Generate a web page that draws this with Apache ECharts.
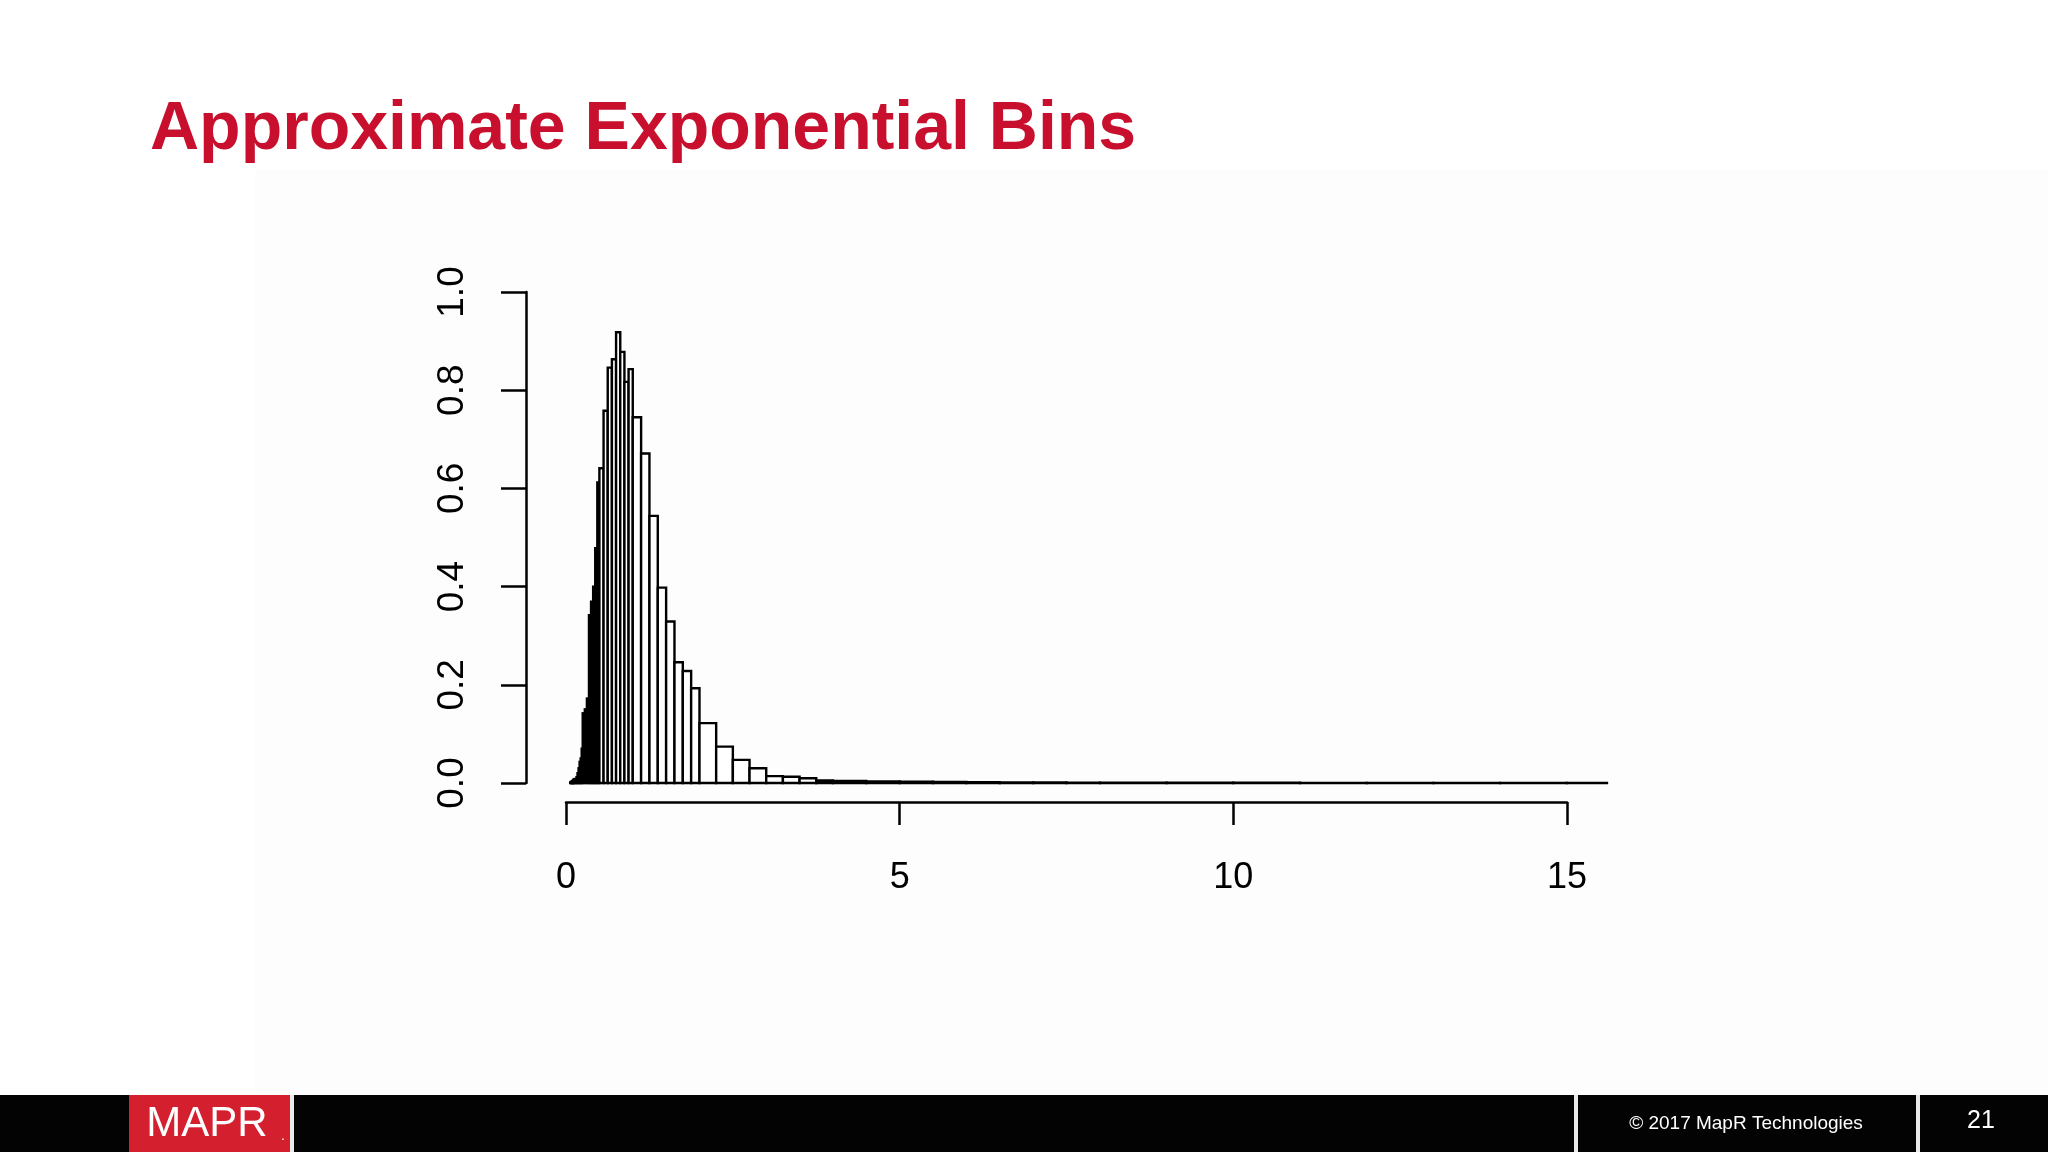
<!DOCTYPE html>
<html>
<head>
<meta charset="utf-8">
<script src="https://cdn.jsdelivr.net/npm/echarts@6/dist/echarts.min.js"></script>
<style>
html,body{margin:0;padding:0;background:#ffffff;}
#chart{width:2048px;height:1152px;}
</style>
</head>
<body>
<div id="chart"></div>
<script>
// Bin left edges (approximately exponential: 8 equal bins per octave)
const binLefts = [
  0.0625, 0.0703, 0.0781, 0.0859, 0.0938, 0.1016, 0.1094, 0.1172,
  0.125, 0.1406, 0.1563, 0.1719, 0.1875, 0.2031, 0.2188, 0.2344,
  0.25, 0.2813, 0.3125, 0.3438, 0.375, 0.4063, 0.4375, 0.4688,
  0.5, 0.5625, 0.625, 0.6875, 0.75, 0.8125, 0.875, 0.9375,
  1, 1.125, 1.25, 1.375, 1.5, 1.625, 1.75, 1.875,
  2, 2.25, 2.5, 2.75, 3, 3.25, 3.5, 3.75,
  4, 4.5, 5, 5.5, 6, 6.5, 7, 7.5,
  8, 9, 10, 11, 12, 13, 14, 15
];
const lastEdge = 15.6;
// Density of each bin
const densities = [
  0.001, 0.002, 0.002, 0.003, 0.004, 0.005, 0.006, 0.008,
  0.006, 0.008, 0.012, 0.02, 0.03, 0.043, 0.05, 0.07,
  0.142, 0.15, 0.172, 0.342, 0.369, 0.40, 0.478, 0.612,
  0.641, 0.758, 0.846, 0.863, 0.918, 0.878, 0.817, 0.843,
  0.745, 0.671, 0.544, 0.398, 0.329, 0.246, 0.228, 0.193,
  0.122, 0.074, 0.047, 0.030, 0.014, 0.0127, 0.0097, 0.005,
  0.004, 0.003, 0.0025, 0.002, 0.0015, 0.0012, 0.001, 0.0008,
  0.0006, 0.0005, 0.0004, 0.0003, 0.0003, 0.0002, 0.0002, 0.0001
];
const xTicks = [0, 5, 10, 15];
const yTicks = [0.0, 0.2, 0.4, 0.6, 0.8, 1.0];

const titleText = 'Approximate Exponential Bins';
const footerText = '\u00A9 2017 MapR Technologies';
const pageNumber = '21';

const histData = binLefts.map((l, i) => [l, i < binLefts.length - 1 ? binLefts[i + 1] : lastEdge, densities[i]]);

const chart = echarts.init(document.getElementById('chart'), null, {renderer: 'canvas'});
const font = 'Liberation Sans, Arial, Helvetica, sans-serif';

const option = {
  backgroundColor: '#ffffff',
  animation: false,
  grid: [
    {left: 526, top: 292, width: 1121, height: 491, containLabel: false},
    {left: 566, top: 292, width: 1001, height: 510, containLabel: false}
  ],
  xAxis: [
    {gridIndex: 0, type: 'value', min: -0.6, max: 16.2, show: false},
    {
      gridIndex: 1, type: 'value', min: 0, max: 15, interval: 5,
      axisLine: {show: true, onZero: false, lineStyle: {color: '#000', width: 2.5}},
      axisTick: {show: true, inside: false, length: 23, lineStyle: {color: '#000', width: 2.5}},
      axisLabel: {show: true, margin: 58, fontSize: 36, color: '#000', fontFamily: font,
        formatter: v => xTicks.indexOf(v) >= 0 ? String(v) : ''},
      splitLine: {show: false}
    }
  ],
  yAxis: [
    {
      gridIndex: 0, type: 'value', min: 0, max: 1, interval: 0.2,
      axisLine: {show: true, onZero: false, lineStyle: {color: '#000', width: 2.5}},
      axisTick: {show: true, inside: false, length: 25, lineStyle: {color: '#000', width: 2.5}},
      axisLabel: {show: true, rotate: 90, margin: 55, fontSize: 37, color: '#000', fontFamily: font,
        formatter: v => yTicks.find(t => Math.abs(t - v) < 1e-9) !== undefined ? v.toFixed(1) : ''},
      splitLine: {show: false}
    },
    {gridIndex: 1, type: 'value', min: 0, max: 1, show: false}
  ],
  series: [{
    type: 'custom',
    xAxisIndex: 0,
    yAxisIndex: 0,
    clip: false,
    encode: {x: [0, 1], y: 2},
    data: histData,
    renderItem: function (params, api) {
      const p0 = api.coord([api.value(0), api.value(2)]);
      const p1 = api.coord([api.value(1), 0]);
      return {
        type: 'rect',
        shape: {x: p0[0], y: p0[1], width: p1[0] - p0[0], height: p1[1] - p0[1]},
        style: {fill: '#ffffff', stroke: '#000000', lineWidth: 2.4}
      };
    }
  }],
  graphic: [
    {type: 'rect', silent: true, z: -10, shape: {x: 255, y: 170, width: 1793, height: 925}, style: {fill: '#fdfdfd'}},
    {type: 'text', left: 150, top: 96, style: {text: titleText, font: 'bold 68px ' + font, fill: '#c8102e'}},
    {type: 'rect', silent: true, shape: {x: 0, y: 1095, width: 2048, height: 57}, style: {fill: '#030303'}},
    {type: 'rect', silent: true, shape: {x: 129, y: 1095, width: 161, height: 57}, style: {fill: '#d41f2f'}},
    {type: 'rect', silent: true, shape: {x: 290, y: 1095, width: 4, height: 57}, style: {fill: '#eaeaea'}},
    {type: 'rect', silent: true, shape: {x: 1574, y: 1095, width: 4, height: 57}, style: {fill: '#eaeaea'}},
    {type: 'rect', silent: true, shape: {x: 1916, y: 1095, width: 4, height: 57}, style: {fill: '#eaeaea'}},
    {type: 'text', x: 207, y: 1124, style: {text: 'MAPR', font: '42px ' + font, fill: '#ffffff', align: 'center', verticalAlign: 'middle'}},
    {type: 'text', x: 283, y: 1136, style: {text: '.', font: '14px ' + font, fill: '#ffffff', align: 'center', verticalAlign: 'middle'}},
    {type: 'text', x: 1746, y: 1124, style: {text: footerText, font: '19px ' + font, fill: '#ffffff', align: 'center', verticalAlign: 'middle'}},
    {type: 'text', x: 1981, y: 1121, style: {text: pageNumber, font: '25px ' + font, fill: '#ffffff', align: 'center', verticalAlign: 'middle'}}
  ]
};
chart.setOption(option);
</script>
</body>
</html>
